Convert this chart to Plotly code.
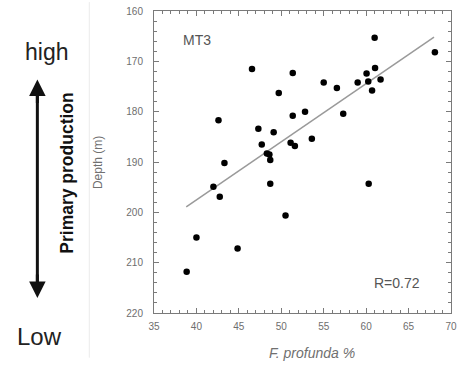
import plotly.graph_objects as go

# Data
fprofunda = [46.55, 51.35, 49.7, 42.6, 51.35, 52.8, 47.3, 49.1, 47.7, 51.1, 51.6, 53.6,
             48.3, 48.6, 48.7, 55.0, 56.55, 57.3, 59.0, 60.05, 60.25, 61.0, 61.05, 60.7,
             61.7, 68.1, 43.3, 42.0, 42.75, 48.7, 60.3, 50.5, 40.0, 44.85, 38.85]
depth = [171.5, 172.3, 176.3, 181.7, 180.8, 180.0, 183.4, 184.1, 186.5, 186.2, 186.8, 185.4,
         188.3, 188.5, 189.6, 174.2, 175.3, 180.4, 174.2, 172.4, 174.0, 165.3, 171.3, 175.8,
         173.6, 168.2, 190.2, 194.9, 196.9, 194.3, 194.3, 200.65, 205.0, 207.2, 211.8]
fit_x = [38.8, 68.0]
fit_y = [198.9, 165.2]
x_ticks = [35, 40, 45, 50, 55, 60, 65, 70]
y_ticks = [160, 170, 180, 190, 200, 210, 220]
station = "MT3"
r_label = "R=0.72"

W, H = 462, 365
L, R, T, B = 154, 5, 9, 52
PW, PH = W - L - R, H - T - B

def px(x):
    return (x - L) / PW

def py(y):
    return (H - B - y) / PH

fig = go.Figure()
fig.add_trace(go.Scatter(x=fit_x, y=fit_y, mode="lines",
                         line=dict(color="#9a9a9a", width=1.5), showlegend=False))
fig.add_trace(go.Scatter(x=fprofunda, y=depth, mode="markers",
                         marker=dict(color="black", size=6.5), showlegend=False))

axcommon = dict(showgrid=False, zeroline=False, showline=True, linecolor="#7a7a7a",
                linewidth=1, mirror="allticks", ticks="inside", ticklen=5,
                tickcolor="#7a7a7a", tickfont=dict(size=10, color="#6e6e6e",
                family="Liberation Sans, Arial, sans-serif"))
fig.update_xaxes(range=[35, 70], tickvals=x_ticks, ticklabelstandoff=4,
                 minor=dict(ticks="inside", dtick=1, ticklen=3, tickcolor="#7a7a7a"),
                 **axcommon)
fig.update_yaxes(range=[220, 160], tickvals=y_ticks, ticklabelstandoff=8,
                 minor=dict(ticks="inside", dtick=2, ticklen=3, tickcolor="#7a7a7a"),
                 **axcommon)

font = "Liberation Sans, Arial, sans-serif"
ann = []
def txt(x, y, text, size, color, angle=0, anchor="center"):
    ann.append(dict(x=px(x), y=py(y), xref="paper", yref="paper", text=text,
                    showarrow=False, xanchor=anchor, yanchor="middle", textangle=angle,
                    font=dict(size=size, color=color, family=font)))

txt(182, 38, station, 14, "#555", anchor="left")
txt(376, 283, r_label, 14, "#555", anchor="left")
txt(315.5, 353, "<i>F. profunda %</i>", 14, "#707070")
txt(97, 162, "Depth (m)", 12, "#707070", angle=-90)
txt(44, 50, "high", 23, "#222")
txt(37, 337, "Low", 24, "#222")
txt(65, 172, "<b>Primary production</b>", 17.5, "#111", angle=-90)
for tip, off in [(78, 25), (298, -25)]:
    ann.append(dict(x=px(35), y=py(tip), xref="paper", yref="paper", text="",
                    showarrow=True, ax=0, ay=off, arrowhead=2, arrowsize=1.1,
                    arrowwidth=3, arrowcolor="#111", standoff=0, startstandoff=0))

fig.update_layout(width=W, height=H, margin=dict(l=L, r=R, t=T, b=B),
                  plot_bgcolor="white", paper_bgcolor="white", annotations=ann,
                  shapes=[dict(type="line", xref="paper", yref="paper", x0=px(88), x1=px(88),
                               y0=py(0), y1=py(358), line=dict(color="#ececec", width=1)),
                          dict(type="line", xref="paper", yref="paper", x0=px(35), x1=px(35),
                               y0=py(90), y1=py(286), line=dict(color="#111", width=3))])
fig.write_html("out.html", config={"displayModeBar": False},
               post_script="document.body.style.margin='0';")
